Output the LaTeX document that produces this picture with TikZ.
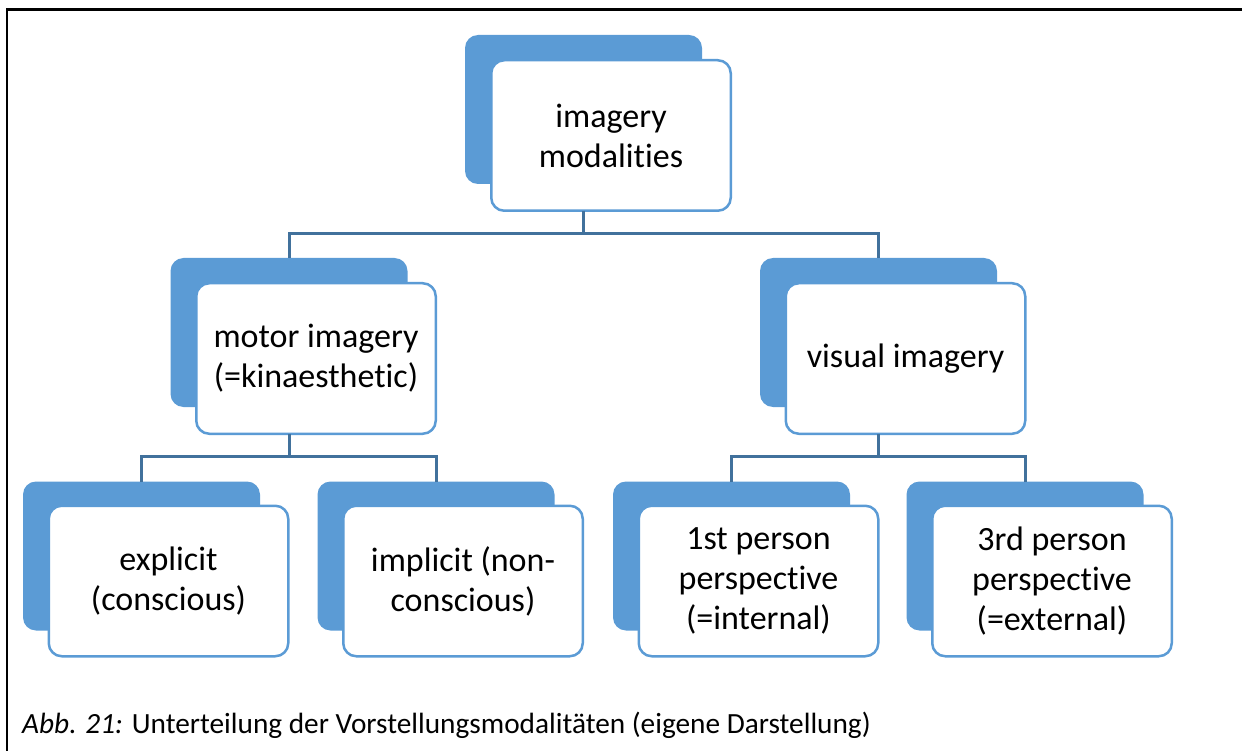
\documentclass[tikz,border=0pt]{standalone}
\usepackage{fontspec}
\setmainfont{Carlito}[Ligatures=NoCommon]
\definecolor{accblue}{HTML}{5B9BD5}
\definecolor{conncol}{HTML}{41719C}
\tikzset{
  backbox/.style={fill=accblue, draw=none, rounded corners=13pt, minimum width=237pt, minimum height=149pt, inner sep=0pt, outer sep=0pt},
  frontbox/.style={fill=white, draw=accblue, line width=2.5pt, rounded corners=13pt, minimum width=239.5pt, minimum height=150.5pt, align=center, inner sep=0pt, outer sep=0pt, font=\fontsize{34}{40}\selectfont},
  conn/.style={draw=conncol, line width=3pt},
}
\begin{document}
\begin{tikzpicture}[x=1pt,y=-1pt]
\useasboundingbox (0,0) rectangle (1242,751);
% frame
\draw[line width=2.5pt] (7,751) -- (7,9.5) -- (1242,9.5);
% top
\node[backbox] (b0) at (583.5,109.5) {};
\node[frontbox] (n0) at (611,135.5) {imagery\\modalities};
% level 2
\node[backbox] (b1) at (289,332.5) {};
\node[frontbox] (n1) at (316,358.5) {motor imagery\\(=kinaesthetic)};
\node[backbox] (b2) at (878.5,332.5) {};
\node[frontbox] (n2) at (905.5,358.5) {visual imagery};
% level 3
\node[backbox] (b3) at (141.5,556) {};
\node[frontbox] (n3) at (168.5,581) {explicit\\(conscious)};
\node[backbox] (b4) at (436,556) {};
\node[frontbox] (n4) at (463,581) {implicit (non-\\conscious)};
\node[backbox] (b5) at (731.5,556) {};
\node[frontbox] (n5) at (758.5,581) {1st person\\perspective\\(=internal)};
\node[backbox] (b6) at (1025,556) {};
\node[frontbox] (n6) at (1052,581) {3rd person\\perspective\\(=external)};
% connectors
\coordinate (j0) at (583.5,234);
\coordinate (j1) at (289,456);
\coordinate (j2) at (878.5,456);
\draw[conn] (b0.center |- n0.south) -- (j0);
\draw[conn] (b1.north) |- (j0) -| (b2.north);
\draw[conn] (b1.center |- n1.south) -- (j1);
\draw[conn] (b3.north) |- (j1) -| (b4.north);
\draw[conn] (b2.center |- n2.south) -- (j2);
\draw[conn] (b5.north) |- (j2) -| (b6.north);
% caption
\node[anchor=base west, inner sep=0pt, font=\fontsize{29.3}{34}\selectfont] (cap) at (22,733) {\textit{Abb. 21:} Unterteilung der Vorstellungsmodalitäten (eigene Darstellung)};
\end{tikzpicture}
\end{document}
